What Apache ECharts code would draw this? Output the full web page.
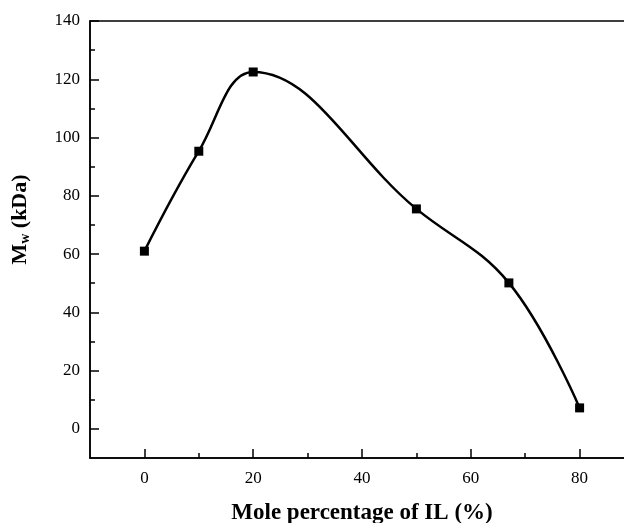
<!DOCTYPE html>
<html>
<head>
<meta charset="utf-8">
<script src="https://cdn.jsdelivr.net/npm/echarts@6/dist/echarts.min.js"></script>
<style>html,body{margin:0;padding:0;background:#fff}#c{width:624px;height:523px}</style>
</head>
<body>
<div id="c"></div>
<script>
const molePct = [0, 10, 20, 50, 67, 80];
const mwValues = [61, 95.3, 122.5, 75.5, 50.1, 7.2];
const xTicks = [0, 20, 40, 60, 80];
const xMinorTicks = [10, 30, 50, 70];
const yTicks = [0, 20, 40, 60, 80, 100, 120, 140];
const yMinorTicks = [10, 30, 50, 70, 90, 110, 130];

const font = '"Liberation Serif", "Times New Roman", serif';
const chart = echarts.init(document.getElementById('c'), null, {renderer: 'canvas'});
const axLine = {onZero: false, lineStyle: {color: '#000', width: 1.5}};
chart.setOption({
  animation: false,
  backgroundColor: '#fff',
  grid: {left: 90, top: 21, width: 544, bottom: 65, outerBoundsMode: 'none', containLabel: false,
    show: true, borderColor: '#000', borderWidth: 1.5, backgroundColor: 'transparent'},
  xAxis: [{
    type: 'value', min: -10, max: 90,
    name: 'Mole percentage of IL (%)', nameLocation: 'middle', nameGap: 44,
    nameTextStyle: {fontFamily: font, fontWeight: 'bold', fontSize: 23, color: '#000'},
    axisLine: axLine,
    axisTick: {inside: true, length: 9, customValues: xTicks, lineStyle: {color: '#000', width: 1.5}},
    axisLabel: {fontFamily: font, fontSize: 17, color: '#000', margin: 12, customValues: xTicks},
    splitLine: {show: false}
  }, {
    type: 'value', min: -10, max: 90, position: 'bottom',
    axisLine: {show: false, onZero: false},
    axisTick: {inside: true, length: 5, customValues: xMinorTicks, lineStyle: {color: '#000', width: 1.5}},
    axisLabel: {show: false},
    splitLine: {show: false}
  }],
  yAxis: [{
    type: 'value', min: -10, max: 140,
    name: '{a|M}{b|w}{a| (kDa)}', nameLocation: 'middle', nameGap: 58, nameRotate: 90,
    nameTextStyle: {fontFamily: font, fontWeight: 'bold', fontSize: 22, color: '#000', padding: [0, 0, 0, 40],
      rich: {
        a: {fontFamily: font, fontWeight: 'bold', fontSize: 22, color: '#000'},
        b: {fontFamily: font, fontWeight: 'bold', fontSize: 14, color: '#000', verticalAlign: 'bottom', padding: [10, 0, 0, 0]}
      }},
    axisLine: axLine,
    axisTick: {inside: true, length: 9, customValues: yTicks, lineStyle: {color: '#000', width: 1.5}},
    axisLabel: {fontFamily: font, fontSize: 17, color: '#000', margin: 10, customValues: yTicks},
    splitLine: {show: false}
  }, {
    type: 'value', min: -10, max: 140, position: 'left',
    axisLine: {show: false, onZero: false},
    axisTick: {inside: true, length: 5, customValues: yMinorTicks, lineStyle: {color: '#000', width: 1.5}},
    axisLabel: {show: false},
    splitLine: {show: false}
  }],
  series: [{
    type: 'line',
    data: molePct.map((x, i) => [x, mwValues[i]]),
    smooth: 0.4,
    symbol: 'rect', symbolSize: 9,
    lineStyle: {color: '#000', width: 2.5},
    itemStyle: {color: '#000'}
  }]
});
</script>
</body>
</html>
